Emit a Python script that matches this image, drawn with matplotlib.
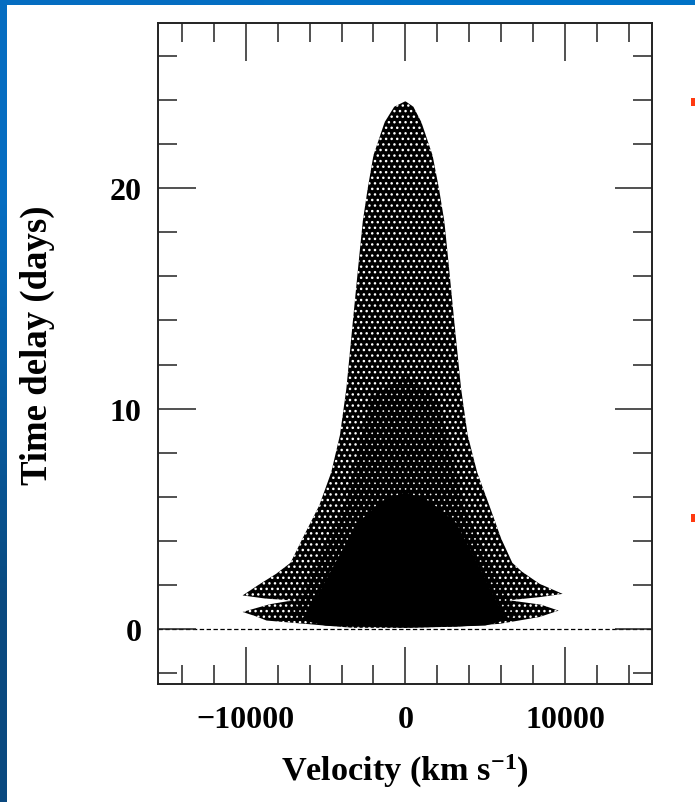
import numpy as np
import matplotlib
matplotlib.use('Agg')
from matplotlib import pyplot as plt
from matplotlib.patches import Rectangle
from matplotlib.ticker import MultipleLocator

# outline of the point cloud (velocity in km/s, delay in days)
outer_v = [0, 3200, 5900, 8400, 9600, 8500, 6500, 8500, 9850, 8400, 7300, 6700,
           6000, 5260, 4500, 3900, 3490, 3280, 3070, 2860, 2650, 2440, 2100, 1700,
           1000, 500, 0, -700, -1300, -2000, -2360, -2670, -2880, -3090, -3300,
           -3500, -3700, -4100, -4650, -5400, -6450, -7200, -8100, -9200, -10200,
           -8800, -7100, -8500, -10200, -9400, -8700, -5000, -3300]
outer_d = [0.05, 0.1, 0.23, 0.54, 0.83, 1.1, 1.3, 1.45, 1.59, 2.05, 2.6, 3.0,
           4.1, 5.6, 7.1, 8.8, 10.9, 12.4, 13.9, 15.45, 17.0, 18.5, 20.0, 21.5,
           23.0, 23.7, 23.95, 23.7, 23.0, 21.5, 20.0, 18.5, 17.0, 15.45, 13.9,
           12.4, 10.9, 8.8, 7.1, 5.6, 4.1, 3.0, 2.5, 2.0, 1.52,
           1.38, 1.29, 1.12, 0.77, 0.58, 0.38, 0.15, 0.05]

# denser middle part of the cloud
mid_v = [-7200, -6300, -5200, -3800, -3000, -2200, 0, 2000, 2900, 3700, 5000,
         6100, 7000, 5000, 0, -5000]
mid_d = [0.6, 1.8, 3.5, 5.5, 8.0, 10.5, 11.5, 10.5, 8.0, 5.5, 3.5, 1.8, 0.6,
         0.2, 0.1, 0.2]

# solid core of the cloud
core_v = [-6500, -5600, -4400, -3000, -1500, 0, 1500, 3200, 4500, 5600, 6300,
          5000, 0, -5000]
core_d = [0.4, 1.4, 3.0, 4.8, 5.8, 6.2, 5.8, 4.8, 3.0, 1.4, 0.4, 0.15, 0.05, 0.15]

plt.rcParams['font.family'] = 'Liberation Serif'
plt.rcParams['font.weight'] = 'bold'
plt.rcParams['mathtext.fontset'] = 'custom'
plt.rcParams['mathtext.rm'] = 'Liberation Serif:bold'
plt.rcParams['mathtext.bf'] = 'Liberation Serif:bold'
plt.rcParams['mathtext.it'] = 'Liberation Serif:bold'

W, H = 695, 803
fig = plt.figure(figsize=(W / 100, H / 100), dpi=100)

# slide background: blue gradient with a white panel
bg = fig.add_axes([0, 0, 1, 1])
grad = np.array([[[0.02, 0.43, 0.76], [0.00, 0.45, 0.78]],
                 [[0.04, 0.29, 0.50], [0.03, 0.35, 0.60]]])
bg.imshow(grad, extent=[0, W, H, 0], aspect='auto', interpolation='bilinear')
bg.add_patch(Rectangle((7, 6), W - 7, H - 6, facecolor='white', edgecolor='none'))
bg.add_patch(Rectangle((691, 99), 5, 8, facecolor='#ff3a10', edgecolor='none'))
bg.add_patch(Rectangle((691, 515), 5, 8, facecolor='#ff3a10', edgecolor='none'))
bg.set_xlim(0, W)
bg.set_ylim(H, 0)
bg.axis('off')

ax = fig.add_axes([158 / W, 1 - 685 / H, (652 - 158) / W, (685 - 24) / H])

ax.axhline(0, color='black', linewidth=0.9, linestyle=(0, (3.5, 2)), zorder=1)

# speckled look of the scattered points: white dots on black, fewer dots inward
plt.rcParams['hatch.linewidth'] = 1.0
ax.fill(outer_v, outer_d, facecolor='black', edgecolor='white', hatch='...',
        linewidth=0, zorder=2)
plt.rcParams['hatch.linewidth'] = 0.45
ax.fill(mid_v, mid_d, facecolor='black', edgecolor='white', hatch='...',
        linewidth=0, zorder=3)
ax.fill(core_v, core_d, facecolor='black', edgecolor='none', linewidth=0, zorder=4)

ax.set_xlim(-15500, 15450)
ax.set_ylim(-2.5, 27.5)
ax.xaxis.set_major_locator(MultipleLocator(10000))
ax.xaxis.set_minor_locator(MultipleLocator(2000))
ax.yaxis.set_major_locator(MultipleLocator(10))
ax.yaxis.set_minor_locator(MultipleLocator(2))
ax.tick_params(which='both', direction='in', top=True, right=True, width=1.1,
               color='#222222', labelsize=23)
ax.tick_params(which='major', length=27)
ax.tick_params(which='minor', length=13.5)
ax.tick_params(axis='x', pad=15)
ax.tick_params(axis='y', pad=12)
for s in ax.spines.values():
    s.set_linewidth(1.4)
    s.set_color('#222222')

ax.set_xlabel(r'Velocity (km s$^{-1}$)', fontsize=24.7, fontweight='bold', labelpad=13)
ax.set_ylabel('Time delay (days)', fontsize=26.5, fontweight='bold')
ax.yaxis.set_label_coords(-0.2085, 0.514)

fig.savefig('out.png', dpi=100)
